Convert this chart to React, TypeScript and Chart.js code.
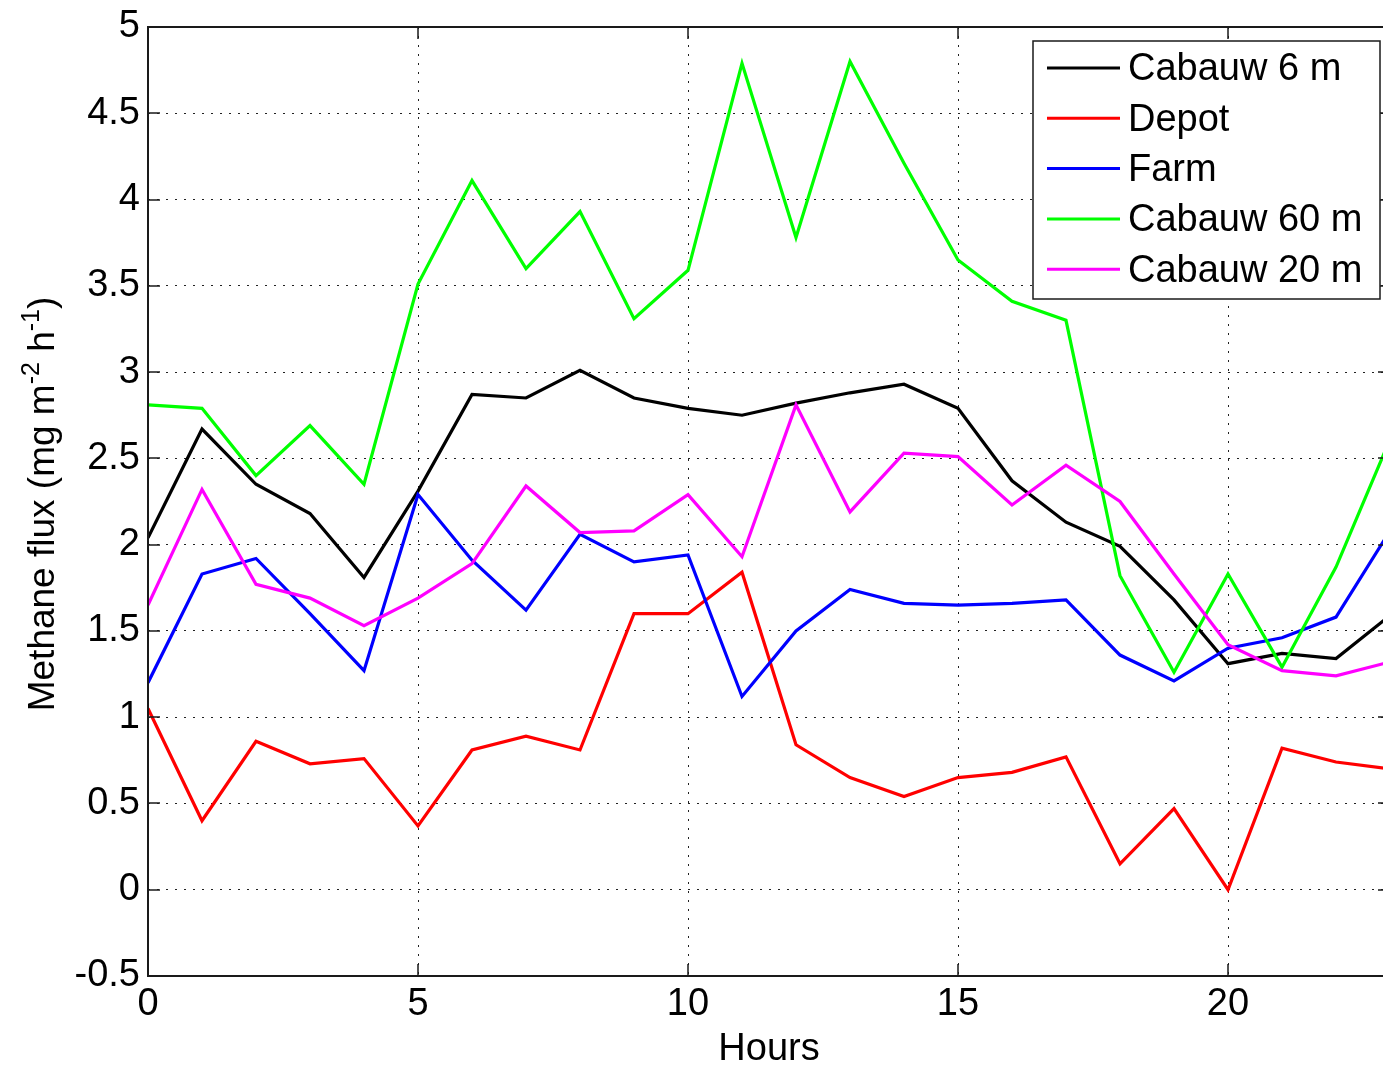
import React, { useEffect, useRef } from "react";
import { Chart, registerables } from "chart.js";

Chart.register(...registerables);

// Hour of day (x) for each sample
const hours = [0, 1, 2, 3, 4, 5, 6, 7, 8, 9, 10, 11, 12, 13, 14, 15, 16, 17, 18, 19, 20, 21, 22, 23];

// Methane flux per site (mg m^-2 h^-1)
const cabauw6m = [2.04, 2.67, 2.35, 2.18, 1.81, 2.31, 2.87, 2.85, 3.01, 2.85, 2.79, 2.75, 2.82, 2.88, 2.93, 2.79, 2.37, 2.13, 1.99, 1.68, 1.31, 1.37, 1.34, 1.59];
const depot = [1.05, 0.40, 0.86, 0.73, 0.76, 0.37, 0.81, 0.89, 0.81, 1.60, 1.60, 1.84, 0.84, 0.65, 0.54, 0.65, 0.68, 0.77, 0.15, 0.47, 0.00, 0.82, 0.74, 0.70];
const farm = [1.20, 1.83, 1.92, 1.60, 1.27, 2.29, 1.91, 1.62, 2.06, 1.90, 1.94, 1.12, 1.50, 1.74, 1.66, 1.65, 1.66, 1.68, 1.36, 1.21, 1.40, 1.46, 1.58, 2.08];
const cabauw60m = [2.81, 2.79, 2.40, 2.69, 2.35, 3.51, 4.11, 3.60, 3.93, 3.31, 3.59, 4.79, 3.78, 4.80, 4.21, 3.65, 3.41, 3.30, 1.82, 1.26, 1.83, 1.29, 1.87, 2.61];
const cabauw20m = [1.65, 2.32, 1.77, 1.69, 1.53, 1.69, 1.89, 2.34, 2.07, 2.08, 2.29, 1.93, 2.81, 2.19, 2.53, 2.51, 2.23, 2.46, 2.25, 1.83, 1.42, 1.27, 1.24, 1.32];

const seriesNames = ["Cabauw 6 m", "Depot", "Farm", "Cabauw 60 m", "Cabauw 20 m"];
const seriesValues = [cabauw6m, depot, farm, cabauw60m, cabauw20m];
const seriesColors = ["#000000", "#ff0000", "#0000ff", "#00ff00", "#ff00ff"];

// Axis ranges and tick steps
const xRange = [0, 23];
const xStep = 5;
const yRange = [-0.5, 5];
const yStep = 0.5;

const xTitle = "Hours";
const yTitleParts: { text: string; sup: boolean }[] = [
  { text: "Methane flux (mg m", sup: false },
  { text: "-2", sup: true },
  { text: " h", sup: false },
  { text: "-1", sup: true },
  { text: ")", sup: false },
];

const FONT = '"Liberation Sans", Arial, Helvetica, sans-serif';
const CANVAS_W = 1402;
const CANVAS_H = 1057;

// Box frame, inward tick marks, axis titles and the boxed legend
const decorations = {
  id: "decorations",
  afterDatasetsDraw(chart: any) {
    const { ctx, chartArea: a, scales } = chart;
    ctx.save();
    ctx.strokeStyle = "#1a1a1a";
    ctx.lineWidth = 2;
    ctx.strokeRect(a.left, a.top, a.right - a.left, a.bottom - a.top);
    const tl = 12;
    ctx.lineWidth = 1.5;
    ctx.beginPath();
    scales.x.ticks.forEach((t: any) => {
      const x = Math.round(scales.x.getPixelForValue(t.value));
      ctx.moveTo(x, a.bottom);
      ctx.lineTo(x, a.bottom - tl);
      ctx.moveTo(x, a.top);
      ctx.lineTo(x, a.top + tl);
    });
    scales.y.ticks.forEach((t: any) => {
      const y = Math.round(scales.y.getPixelForValue(t.value));
      ctx.moveTo(a.left, y);
      ctx.lineTo(a.left + tl, y);
      ctx.moveTo(a.right, y);
      ctx.lineTo(a.right - tl, y);
    });
    ctx.stroke();
    ctx.restore();
  },
  afterDraw(chart: any) {
    const { ctx, chartArea: a } = chart;
    ctx.save();

    // x-axis title
    ctx.fillStyle = "#000";
    ctx.font = `38px ${FONT}`;
    ctx.textAlign = "center";
    ctx.textBaseline = "alphabetic";
    ctx.fillText(xTitle, (a.left + a.right) / 2, 1052);

    // y-axis title with superscripts, rotated
    const size = 37;
    const supSize = 25;
    let total = 0;
    yTitleParts.forEach((p) => {
      ctx.font = `${p.sup ? supSize : size}px ${FONT}`;
      total += ctx.measureText(p.text).width;
    });
    ctx.translate(46, 496);
    ctx.rotate(-Math.PI / 2);
    ctx.textAlign = "left";
    let x = -total / 2;
    yTitleParts.forEach((p) => {
      ctx.font = `${p.sup ? supSize : size}px ${FONT}`;
      ctx.fillText(p.text, x, p.sup ? -15 : 0);
      x += ctx.measureText(p.text).width;
    });
    ctx.setTransform(1, 0, 0, 1, 0, 0);

    // legend
    const bx = 1025, by = 33, bw = 347, bh = 258;
    ctx.fillStyle = "#fff";
    ctx.fillRect(bx, by, bw, bh);
    ctx.strokeStyle = "#1a1a1a";
    ctx.lineWidth = 1.5;
    ctx.strokeRect(bx, by, bw, bh);
    ctx.font = `38px ${FONT}`;
    ctx.textBaseline = "middle";
    ctx.textAlign = "left";
    chart.data.datasets.forEach((ds: any, i: number) => {
      const y = 60 + i * 50.3;
      ctx.strokeStyle = ds.borderColor;
      ctx.lineWidth = 3;
      ctx.beginPath();
      ctx.moveTo(1039, y);
      ctx.lineTo(1112, y);
      ctx.stroke();
      ctx.fillStyle = "#000";
      ctx.fillText(ds.label, 1120, y + 2);
    });
    ctx.restore();
  },
};

export default function App() {
  const canvasRef = useRef<HTMLCanvasElement | null>(null);

  useEffect(() => {
    if (!canvasRef.current) return;
    const datasets = seriesNames.map((name, i) => ({
      label: name,
      data: seriesValues[i].map((v, j) => ({ x: hours[j], y: v })),
      borderColor: seriesColors[i],
      backgroundColor: seriesColors[i],
      borderWidth: 3.2,
      pointRadius: 0,
      tension: 0,
      fill: false,
      order: seriesNames.length - i,
    }));

    const chart = new Chart(canvasRef.current, {
      type: "line",
      data: { datasets },
      options: {
        responsive: false,
        animation: false,
        devicePixelRatio: 1,
        layout: { padding: { top: 19, right: 20, left: 0, bottom: 0 } },
        plugins: { legend: { display: false }, tooltip: { enabled: false } },
        scales: {
          x: {
            type: "linear",
            min: xRange[0],
            max: xRange[1],
            ticks: {
              stepSize: xStep,
              includeBounds: false,
              color: "#000",
              font: { family: FONT, size: 38 },
              padding: 6,
              maxRotation: 0,
            },
            grid: { color: "#222", lineWidth: 1, drawTicks: false },
            border: { display: false, dash: [2, 7] },
            afterFit(scale: any) {
              scale.height = 89;
              scale.paddingLeft = 0;
              scale.paddingRight = 0;
            },
          },
          y: {
            min: yRange[0],
            max: yRange[1],
            ticks: {
              stepSize: yStep,
              color: "#000",
              font: { family: FONT, size: 38 },
              padding: 8,
              callback: (v: any) => String(Math.round(Number(v) * 10) / 10),
            },
            grid: { color: "#222", lineWidth: 1, drawTicks: false },
            border: { display: false, dash: [2, 7] },
            afterFit(scale: any) {
              scale.width = 140;
              scale.paddingTop = 0;
              scale.paddingBottom = 0;
            },
          },
        },
      },
      plugins: [decorations],
    });
    return () => chart.destroy();
  }, []);

  return (
    <div
      style={{
        position: "fixed",
        left: 8,
        top: 8,
        width: 1375,
        height: CANVAS_H,
        overflow: "hidden",
        background: "#fff",
      }}
    >
      <canvas
        ref={canvasRef}
        width={CANVAS_W}
        height={CANVAS_H}
        style={{ display: "block", width: CANVAS_W, height: CANVAS_H }}
      />
    </div>
  );
}
